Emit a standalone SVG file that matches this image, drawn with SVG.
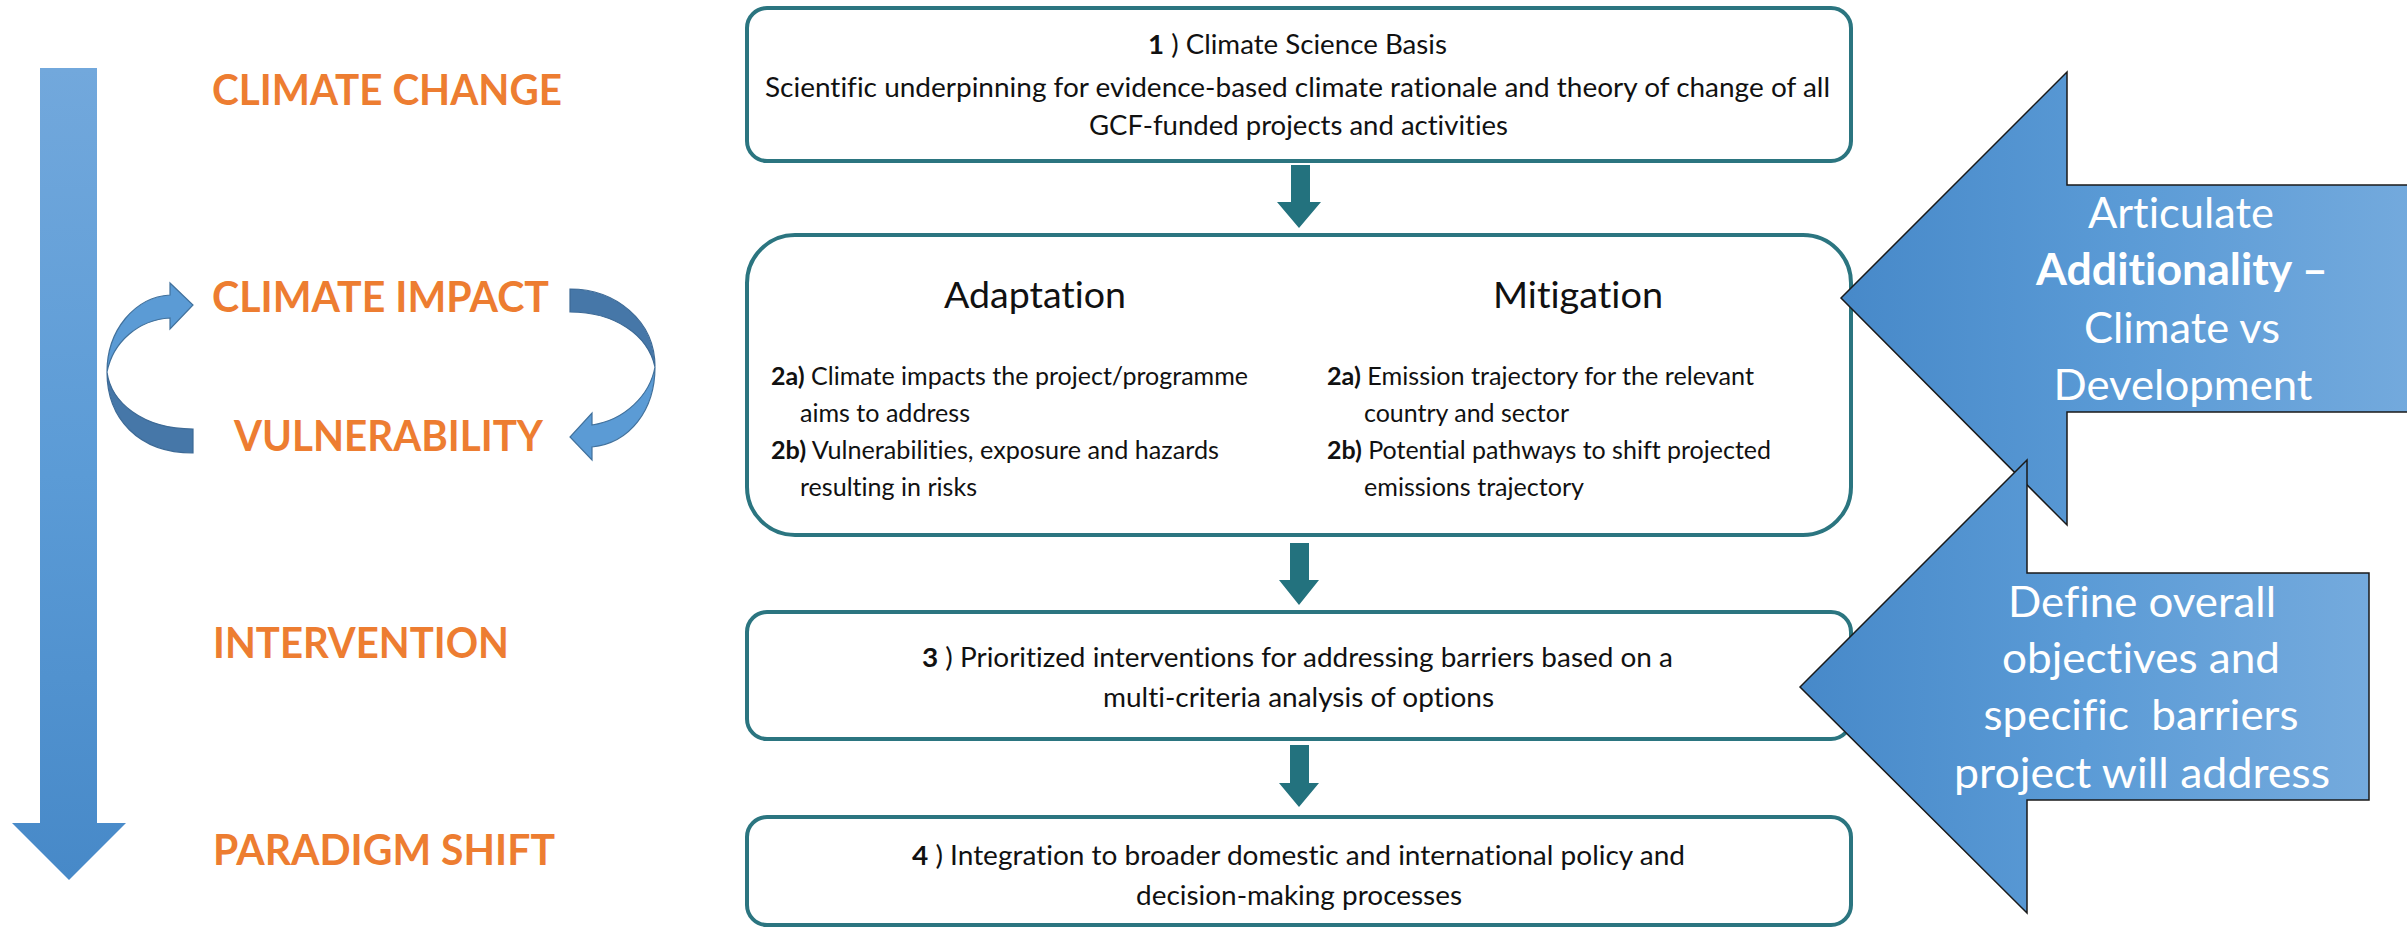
<svg xmlns="http://www.w3.org/2000/svg" width="2407" height="928" viewBox="0 0 2407 928">
  <defs>
    <linearGradient id="gDown" x1="0" y1="0" x2="0" y2="1">
      <stop offset="0" stop-color="#72a8dc"/>
      <stop offset="0.5" stop-color="#5b9bd6"/>
      <stop offset="1" stop-color="#4789c8"/>
    </linearGradient>
    <linearGradient id="gLeft" x1="0" y1="0" x2="1" y2="0">
      <stop offset="0" stop-color="#4789c9"/>
      <stop offset="0.5" stop-color="#5b9bd6"/>
      <stop offset="1" stop-color="#74aadd"/>
    </linearGradient>
    <style>
      text { font-variant-ligatures: none; }
      .stage { font-family: Lato, "Liberation Sans", sans-serif; font-weight: bold; font-size: 42px; fill: #ed7d31; }
      .box { fill: #ffffff; stroke: #2b7580; stroke-width: 4; }
      .body { font-family: Lato, "Liberation Sans", sans-serif; font-size: 27px; fill: #111111; }
      .item { font-family: Lato, "Liberation Sans", sans-serif; font-size: 25px; fill: #111111; }
      .head { font-family: Lato, "Liberation Sans", sans-serif; font-size: 37px; fill: #111111; }
      .flow { fill: #23727e; }
      .call { fill: url(#gLeft); stroke: #1a1a1a; stroke-width: 1.5; }
      .callText { font-family: Lato, "Liberation Sans", sans-serif; font-size: 43px; fill: #ffffff; text-anchor: middle; white-space: pre; }
      .curlDark { fill: #4677a8; stroke: #3d6a96; stroke-width: 1.2; }
      .curlLight { fill: #5b9bd5; stroke: #41719c; stroke-width: 1.2; }
    </style>
  </defs>

  <!-- timeline arrow on the left -->
  <g id="timeline">
    <polygon points="40,68 97,68 97,823 126,823 69,880 12,823 40,823" fill="url(#gDown)"/>
  </g>

  <!-- stage labels -->
  <g id="stages">
    <text class="stage" x="212" y="105" textLength="350" lengthAdjust="spacingAndGlyphs">CLIMATE CHANGE</text>
    <text class="stage" x="212" y="312" textLength="337" lengthAdjust="spacingAndGlyphs">CLIMATE IMPACT</text>
    <text class="stage" x="234" y="451" textLength="309" lengthAdjust="spacingAndGlyphs">VULNERABILITY</text>
    <text class="stage" x="213" y="658" textLength="296" lengthAdjust="spacingAndGlyphs">INTERVENTION</text>
    <text class="stage" x="213" y="865" textLength="342" lengthAdjust="spacingAndGlyphs">PARADIGM SHIFT</text>
  </g>

  <!-- impact / vulnerability cycle -->
  <g id="cycle">
    <path class="curlDark" d="M193,453 C138,453 107,418 107,372 C111,402 142,429 193,429 Z"/>
    <path class="curlLight" d="M107,372 C107,330 135,297 170,295 L170,283 L193,305 L170,329 L170,318 C138,320 113,342 107,372 Z"/>
    <path class="curlDark" d="M570,289 C615,289 655,320 655,367 C648,335 615,312 570,312 Z"/>
    <path class="curlLight" d="M655,367 C655,410 630,443 592,447 L592,460 L570,437 L592,413 L592,425 C625,420 650,395 655,367 Z"/>
  </g>

  <!-- flow connectors between the steps -->
  <g id="connectors">
    <polygon class="flow" points="1291,165 1310,165 1310,202 1321,202 1299,228 1277,202 1291,202"/>
    <polygon class="flow" points="1290,543 1309,543 1309,580 1319,580 1299,605 1279,580 1290,580"/>
    <polygon class="flow" points="1290,745 1309,745 1309,783 1319,783 1299,807 1279,783 1290,783"/>
  </g>

  <!-- step 1 -->
  <g id="step1">
    <rect class="box" x="747" y="8" width="1104" height="153" rx="20" ry="20"/>
    <text class="body" x="1148" y="54" textLength="299" lengthAdjust="spacingAndGlyphs"><tspan font-weight="bold">1</tspan> ) Climate Science Basis</text>
    <text class="body" x="765" y="97" textLength="1065" lengthAdjust="spacingAndGlyphs">Scientific underpinning for evidence-based climate rationale and theory of change of all</text>
    <text class="body" x="1089" y="135" textLength="419" lengthAdjust="spacingAndGlyphs">GCF-funded projects and activities</text>
  </g>

  <!-- step 2 -->
  <g id="step2">
    <rect class="box" x="747" y="235" width="1104" height="300" rx="48" ry="48"/>
    <text class="head" x="944" y="308" textLength="182" lengthAdjust="spacingAndGlyphs">Adaptation</text>
    <text class="head" x="1493" y="308" textLength="170" lengthAdjust="spacingAndGlyphs">Mitigation</text>
    <text class="item" x="771" y="385" textLength="477" lengthAdjust="spacingAndGlyphs"><tspan font-weight="bold">2a)</tspan> Climate impacts the project/programme</text>
    <text class="item" x="800" y="422" textLength="170" lengthAdjust="spacingAndGlyphs">aims to address</text>
    <text class="item" x="771" y="459" textLength="448" lengthAdjust="spacingAndGlyphs"><tspan font-weight="bold">2b)</tspan> Vulnerabilities, exposure and hazards</text>
    <text class="item" x="800" y="496" textLength="177" lengthAdjust="spacingAndGlyphs">resulting in risks</text>
    <text class="item" x="1327" y="385" textLength="427" lengthAdjust="spacingAndGlyphs"><tspan font-weight="bold">2a)</tspan> Emission trajectory for the relevant</text>
    <text class="item" x="1364" y="422" textLength="205" lengthAdjust="spacingAndGlyphs">country and sector</text>
    <text class="item" x="1327" y="459" textLength="444" lengthAdjust="spacingAndGlyphs"><tspan font-weight="bold">2b)</tspan> Potential pathways to shift projected</text>
    <text class="item" x="1364" y="496" textLength="220" lengthAdjust="spacingAndGlyphs">emissions trajectory</text>
  </g>

  <!-- step 3 -->
  <g id="step3">
    <rect class="box" x="747" y="612" width="1104" height="127" rx="20" ry="20"/>
    <text class="body" x="922" y="667" textLength="751" lengthAdjust="spacingAndGlyphs"><tspan font-weight="bold">3</tspan> ) Prioritized interventions for addressing barriers based on a</text>
    <text class="body" x="1103" y="707" textLength="391" lengthAdjust="spacingAndGlyphs">multi-criteria analysis of options</text>
  </g>

  <!-- step 4 -->
  <g id="step4">
    <rect class="box" x="747" y="817" width="1104" height="108" rx="20" ry="20"/>
    <text class="body" x="912" y="865" textLength="773" lengthAdjust="spacingAndGlyphs"><tspan font-weight="bold">4</tspan> ) Integration to broader domestic and international policy and</text>
    <text class="body" x="1136" y="905" textLength="326" lengthAdjust="spacingAndGlyphs">decision-making processes</text>
  </g>

  <!-- additionality callout -->
  <g id="additionality">
    <polygon class="call" points="1841,298 2067,72 2067,185 2420,185 2420,412 2067,412 2067,525"/>
    <text class="callText" x="2181" y="228" textLength="186" lengthAdjust="spacingAndGlyphs">Articulate</text>
    <text class="callText" x="2182" y="285" font-weight="bold" textLength="292" lengthAdjust="spacingAndGlyphs">Additionality –</text>
    <text class="callText" x="2182" y="343" textLength="196" lengthAdjust="spacingAndGlyphs">Climate vs</text>
    <text class="callText" x="2183" y="400" textLength="259" lengthAdjust="spacingAndGlyphs">Development</text>
  </g>

  <!-- objectives callout -->
  <g id="objectives">
    <polygon class="call" points="1800,687 2027,460 2027,573 2369,573 2369,800 2027,800 2027,913"/>
    <text class="callText" x="2142" y="617" textLength="268" lengthAdjust="spacingAndGlyphs">Define overall</text>
    <text class="callText" x="2141" y="673" textLength="278" lengthAdjust="spacingAndGlyphs">objectives and</text>
    <text class="callText" x="2141" y="730" textLength="315" lengthAdjust="spacingAndGlyphs" xml:space="preserve">specific  barriers</text>
    <text class="callText" x="2142" y="788" textLength="376" lengthAdjust="spacingAndGlyphs">project will address</text>
  </g>
</svg>
